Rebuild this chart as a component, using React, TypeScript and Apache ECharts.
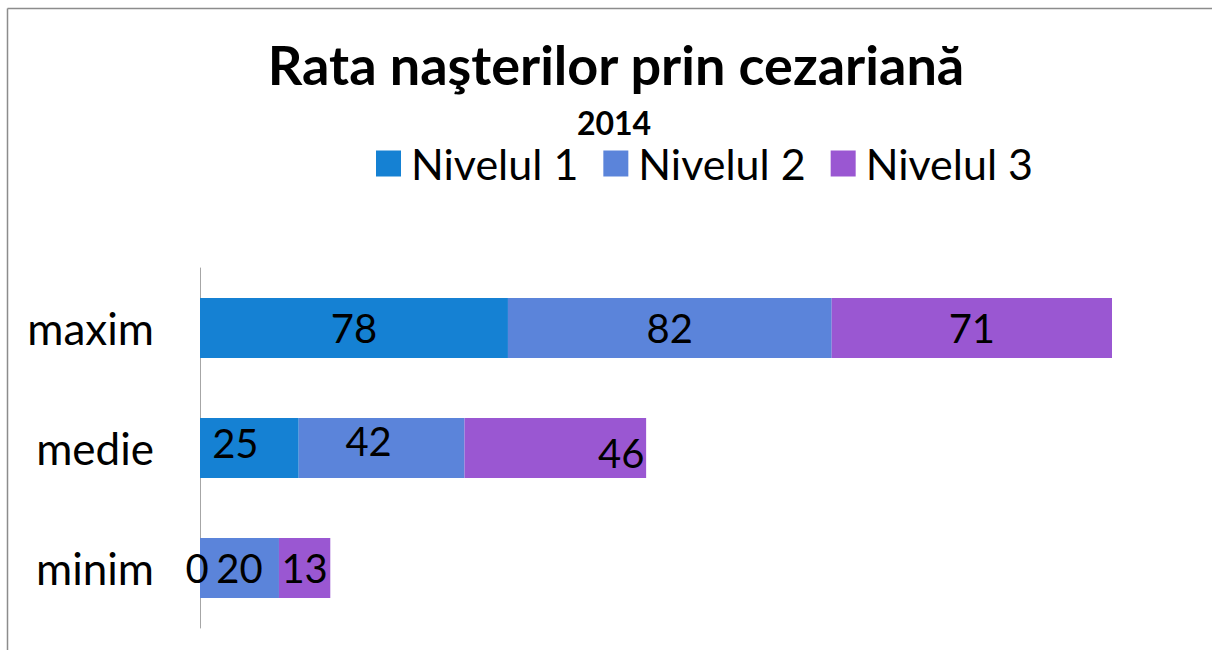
import React, { useEffect, useRef } from "react";
import * as echarts from "echarts";

const categories = ["minim", "medie", "maxim"];
const seriesNames = ["Nivelul 1", "Nivelul 2", "Nivelul 3"];
const nivel1 = [0, 25, 78];
const nivel2 = [20, 42, 82];
const nivel3 = [13, 46, 71];
const colors = ["#1581d3", "#5b84da", "#9a57d2"];

// label nudges (per series, per category) to mimic the original placement
const labelNudges: number[][][] = [
  [[-3, 0], [-14, -5], [0, 0]],
  [[0, 0], [-13, -7], [0, 0]],
  [[0, 0], [66, 5], [0, 0]],
];

const FONT = "Lato, 'Open Sans', sans-serif";

export default function App() {
  const ref = useRef<HTMLDivElement>(null);
  useEffect(() => {
    if (!ref.current) return;
    const chart = echarts.init(ref.current, null, { renderer: "svg" });
    const all = [nivel1, nivel2, nivel3];
    const total = Math.max(...categories.map((_, i) => nivel1[i] + nivel2[i] + nivel3[i]));
    chart.setOption({
      animation: false,
      backgroundColor: "#ffffff",
      textStyle: { fontFamily: FONT },
      title: [
        {
          text: "Rata naşterilor prin cezariană",
          left: 611,
          top: 32,
          textAlign: "center",
          textStyle: { fontFamily: FONT, fontSize: 54, fontWeight: "bold", color: "#000" },
        },
        {
          text: "2014",
          left: 609,
          top: 101,
          textAlign: "center",
          textStyle: { fontFamily: FONT, fontSize: 32, fontWeight: "bold", color: "#000" },
        },
      ],
      legend: {
        left: 371,
        top: 137,
        itemWidth: 25,
        itemHeight: 26,
        itemGap: 25,
        icon: "rect",
        data: seriesNames,
        textStyle: { fontFamily: FONT, fontSize: 43, color: "#000", padding: [0, 0, 0, 5] },
      },
      grid: { left: 200, top: 268, width: 912, height: 360, containLabel: false },
      xAxis: {
        type: "value",
        min: 0,
        max: total,
        show: false,
        splitLine: { show: false },
      },
      yAxis: {
        type: "category",
        data: categories,
        axisLine: { show: true, lineStyle: { color: "#a6a6a6", width: 1 } },
        axisTick: { show: false },
        axisLabel: { fontFamily: FONT, fontSize: 44, color: "#000", margin: 46 },
      },
      graphic: [
        { type: "line", shape: { x1: 7.5, y1: 8.5, x2: 1212, y2: 8.5 }, style: { stroke: "#8c8c8c", lineWidth: 1.5 } },
        { type: "line", shape: { x1: 7.5, y1: 8.5, x2: 7.5, y2: 650 }, style: { stroke: "#8c8c8c", lineWidth: 1.5 } },
      ],
      series: seriesNames.map((name, s) => ({
        name,
        type: "bar",
        stack: "total",
        barWidth: 60,
        itemStyle: { color: colors[s] },
        data: all[s].map((v, c) => ({
          value: v,
          label: { offset: labelNudges[s][c] },
        })),
        label: {
          show: true,
          position: "inside",
          fontFamily: FONT,
          fontSize: 40,
          color: "#000",
        },
      })),
    });
    return () => chart.dispose();
  }, []);
  return (
    <div
      ref={ref}
      style={{ position: "fixed", left: 0, top: 0, width: 1212, height: 650 }}
    />
  );
}
